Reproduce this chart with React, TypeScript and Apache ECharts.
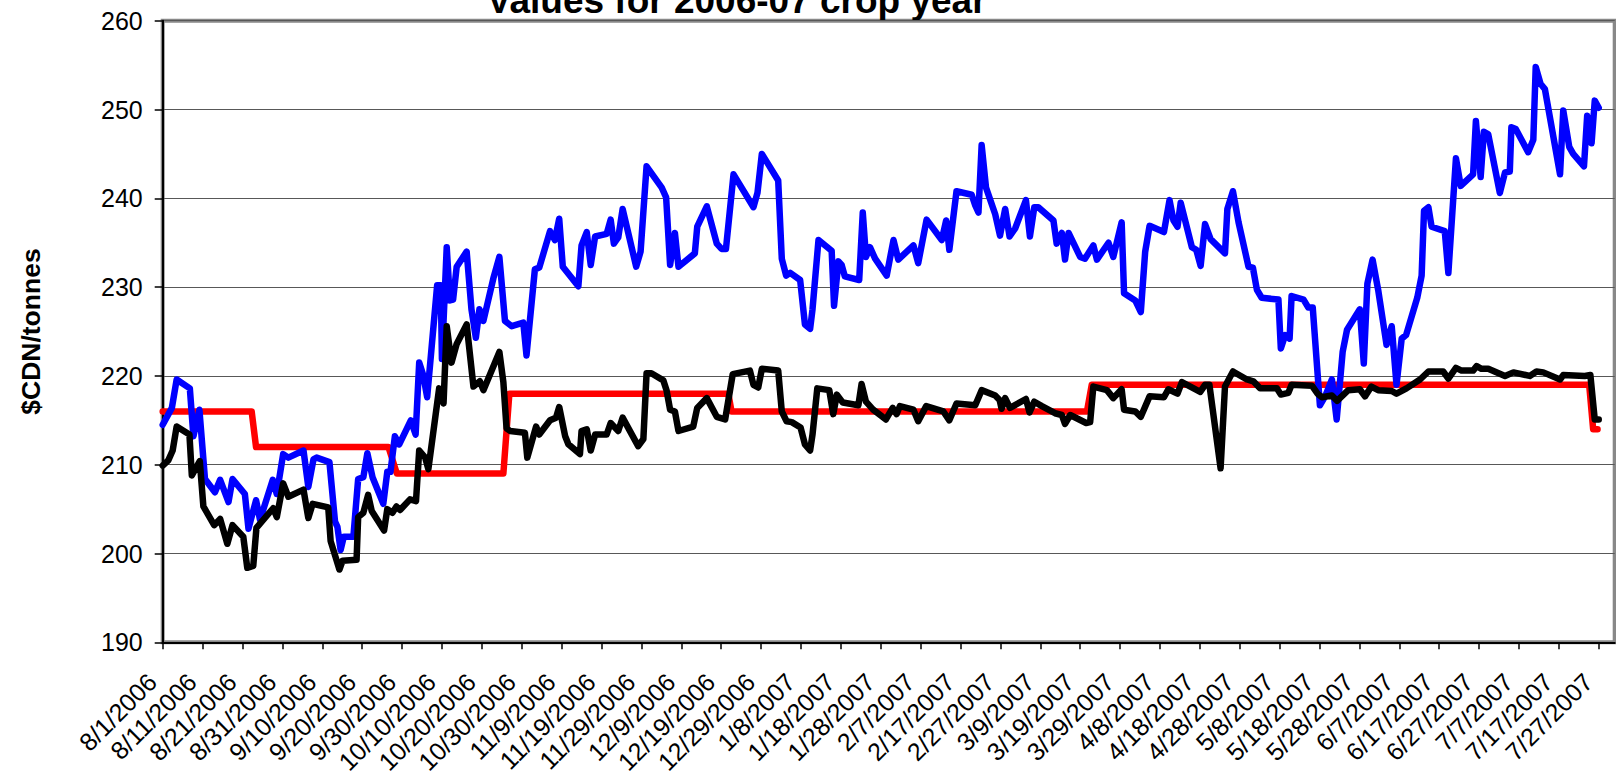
import React, { useEffect, useRef } from "react";
import * as echarts from "echarts";

const FONT = "'Liberation Sans', Arial, sans-serif";
const TITLE = "Values for 2006-07 crop year";
const Y_AXIS_NAME = "$CDN/tonnes";

// x values are days counted from 8/1/2006
const X_TICK_LABELS = [
  "8/1/2006", "8/11/2006", "8/21/2006", "8/31/2006", "9/10/2006", "9/20/2006",
  "9/30/2006", "10/10/2006", "10/20/2006", "10/30/2006", "11/9/2006", "11/19/2006",
  "11/29/2006", "12/9/2006", "12/19/2006", "12/29/2006", "1/8/2007", "1/18/2007",
  "1/28/2007", "2/7/2007", "2/17/2007", "2/27/2007", "3/9/2007", "3/19/2007",
  "3/29/2007", "4/8/2007", "4/18/2007", "4/28/2007", "5/8/2007", "5/18/2007",
  "5/28/2007", "6/7/2007", "6/17/2007", "6/27/2007", "7/7/2007", "7/17/2007",
  "7/27/2007",
];
const X_TICK_STEP_DAYS = 10;
const X_MAX_DAY = 364; // 7/31/2007
const Y_MIN = 190;
const Y_MAX = 260;
const Y_STEP = 10;

const BLUE_SERIES: [number, number][] = [
  [0, 214.5], [2.3, 216.4], [3.5, 219.6], [6.8, 218.6], [7.7, 213.2], [9.2, 216.2], [10.6, 208.4],
  [13.1, 206.9], [14.4, 208.3], [16.5, 205.8], [17.5, 208.4], [20.6, 206.7], [21.5, 202.8], [23.4, 206.0],
  [24.4, 203.8], [27.6, 208.3], [28.6, 206.7], [30.2, 211.2], [31.5, 210.8], [35.3, 211.6], [36.5, 207.5],
  [37.8, 210.6], [38.6, 210.8], [41.8, 210.3], [43.2, 203.6], [43.8, 203.0], [44.6, 200.4], [45.4, 201.9],
  [47.8, 201.9], [49.0, 208.4], [50.3, 208.6], [51.3, 211.3], [52.6, 208.6], [55.3, 205.6], [56.3, 209.2],
  [57.1, 209.2], [58.2, 213.2], [59.3, 212.3], [62.2, 215.0], [63.4, 213.4], [64.3, 221.5], [65.3, 220.1],
  [66.3, 217.6], [68.8, 230.2], [69.7, 230.2], [70.0, 221.9], [71.2, 234.5], [72.0, 228.5], [72.8, 228.6],
  [73.7, 232.3], [76.2, 234.0], [77.4, 227.5], [78.5, 224.3], [79.4, 227.5], [80.4, 226.2], [82.9, 231.0],
  [84.4, 233.4], [85.8, 226.2], [87.5, 225.6], [90.4, 226.0], [91.2, 222.3], [93.3, 232.0], [94.4, 232.2],
  [97.1, 236.3], [98.3, 235.3], [99.4, 237.7], [100.3, 232.3], [104.2, 230.1], [105.0, 234.7], [106.3, 236.2],
  [107.3, 232.5], [108.4, 235.7], [111.3, 236.0], [112.3, 237.6], [113.1, 234.9], [114.2, 235.6], [115.3, 238.8],
  [118.7, 232.3], [119.8, 234.0], [121.3, 243.6], [125.1, 241.2], [126.2, 240.1], [127.2, 232.5], [128.4, 236.1],
  [129.3, 232.3], [133.4, 233.8], [134.0, 236.8], [136.4, 239.1], [138.9, 234.9], [140.1, 234.3], [141.2, 234.3],
  [143.1, 242.7], [148.1, 239.0], [149.1, 240.6], [150.2, 245.0], [154.3, 242.0], [155.2, 233.2], [156.3, 231.3],
  [157.3, 231.6], [159.8, 230.8], [161.0, 225.8], [162.3, 225.3], [162.9, 227.5], [164.4, 235.3], [167.7, 234.1],
  [168.3, 227.9], [169.4, 232.9], [170.2, 232.5], [171.0, 231.2], [174.6, 230.8], [175.5, 238.4], [176.3, 233.4],
  [177.3, 234.5], [178.6, 233.2], [181.5, 231.3], [183.2, 235.3], [184.4, 233.1], [188.2, 234.7], [189.4, 232.7],
  [191.5, 237.6], [195.3, 235.3], [196.4, 237.5], [197.2, 234.2], [199.0, 240.8], [202.8, 240.4], [203.7, 239.2],
  [204.5, 238.4], [205.3, 246.0], [206.4, 241.2], [208.7, 238.2], [209.9, 235.8], [211.2, 238.8], [212.3, 235.7],
  [213.7, 236.6], [216.4, 239.8], [217.4, 235.7], [218.5, 239.0], [219.5, 239.0], [223.3, 237.5], [224.1, 234.9],
  [225.4, 236.1], [226.2, 233.1], [227.1, 236.1], [230.0, 233.4], [231.2, 233.2], [233.3, 234.7], [234.2, 233.1],
  [237.1, 235.0], [238.3, 233.4], [240.4, 237.3], [241.0, 229.3], [243.8, 228.5], [245.2, 227.2], [246.3, 234.0],
  [247.4, 236.9], [251.0, 236.2], [252.4, 239.8], [253.4, 237.5], [254.4, 236.8], [255.2, 239.5], [258.0, 234.5],
  [259.1, 234.2], [260.2, 232.4], [261.3, 237.1], [262.7, 235.4], [266.3, 233.8], [266.9, 238.8], [268.3, 240.8],
  [269.7, 237.3], [272.2, 232.3], [273.3, 232.2], [274.3, 229.7], [275.5, 228.8], [279.7, 228.6], [280.3, 223.1],
  [281.4, 224.6], [282.5, 224.2], [283.0, 229.0], [286.0, 228.6], [287.2, 227.7], [288.3, 227.7], [290.1, 216.7],
  [291.4, 217.7], [293.1, 219.6], [294.3, 215.1], [295.8, 222.7], [296.9, 225.2], [300.1, 227.5], [301.1, 221.4],
  [302.0, 230.4], [303.3, 233.1], [304.7, 229.7], [306.8, 223.5], [308.1, 225.6], [309.3, 219.0], [310.6, 224.2],
  [311.7, 224.6], [314.5, 228.8], [315.6, 231.3], [316.2, 238.6], [317.3, 239.0], [318.1, 236.8], [321.4, 236.3],
  [322.3, 231.6], [324.2, 244.5], [325.4, 241.4], [328.5, 242.7], [329.2, 248.7], [330.4, 242.4], [331.2, 247.5],
  [332.3, 247.2], [335.2, 240.6], [336.5, 242.9], [337.7, 243.0], [338.1, 248.0], [339.2, 247.8], [342.3, 245.2],
  [343.6, 246.6], [344.2, 254.8], [345.4, 252.9], [346.5, 252.3], [350.3, 242.7], [351.1, 249.9], [352.6, 245.8],
  [353.6, 245.0], [356.3, 243.6], [357.1, 249.3], [358.2, 246.2], [359.0, 251.0], [360.0, 250.2],
];

const BLACK_SERIES: [number, number][] = [
  [0, 209.9], [1.4, 210.5], [2.5, 211.6], [3.5, 214.3], [6.7, 213.4], [7.3, 208.8], [9.3, 210.4], [10.2, 205.3],
  [12.9, 203.2], [14.4, 203.9], [16.2, 201.1], [17.5, 203.2], [20.2, 201.9], [21.2, 198.4], [22.7, 198.6],
  [23.5, 202.9], [27.7, 205.1], [28.6, 204.1], [30.2, 207.9], [31.5, 206.4], [35.3, 207.2], [36.5, 204.0],
  [37.6, 205.6], [41.5, 205.2], [42.1, 201.4], [44.3, 198.2], [45.1, 199.2], [48.6, 199.3], [49.0, 204.1],
  [50.3, 204.6], [51.5, 206.6], [52.4, 204.8], [55.5, 202.6], [56.3, 205.0], [57.6, 204.6], [58.6, 205.3],
  [59.5, 204.9], [62.0, 206.1], [63.5, 205.9], [64.3, 211.6], [65.8, 210.8], [66.6, 209.5], [69.3, 218.6],
  [70.4, 216.9], [71.2, 225.6], [72.4, 221.5], [73.7, 223.6], [76.2, 225.8], [77.9, 218.8], [79.5, 219.4],
  [80.4, 218.4], [84.4, 222.7], [85.4, 219.3], [86.2, 214.1], [87.1, 213.8], [90.8, 213.6], [91.4, 210.8],
  [93.6, 214.3], [94.4, 213.4], [97.1, 215.0], [98.6, 215.3], [99.4, 216.5], [100.9, 213.2], [101.7, 212.3],
  [104.6, 211.2], [105.0, 213.8], [106.3, 214.0], [107.3, 211.6], [108.4, 213.4], [111.3, 213.4], [112.3, 214.7],
  [114.2, 213.8], [115.3, 215.3], [119.2, 212.1], [120.5, 212.9], [121.3, 220.3], [122.5, 220.3], [125.5, 219.5],
  [126.3, 218.4], [127.2, 216.2], [128.4, 216.0], [129.3, 213.8], [133.0, 214.3], [134.0, 216.4], [136.4, 217.5],
  [138.9, 215.4], [141.0, 215.1], [142.9, 220.2], [147.2, 220.6], [148.1, 219.0], [149.3, 218.7], [150.2, 220.8],
  [154.3, 220.6], [155.2, 216.0], [156.4, 214.9], [157.7, 214.8], [159.9, 214.2], [161.0, 212.3], [162.3, 211.6],
  [162.9, 213.4], [164.1, 218.6], [167.1, 218.4], [168.1, 215.7], [169.0, 217.9], [170.5, 217.0], [174.4, 216.7],
  [175.2, 219.1], [176.3, 217.1], [178.1, 216.2], [181.3, 215.1], [183.0, 216.4], [184.0, 215.7], [184.8, 216.6],
  [188.2, 216.2], [189.4, 214.9], [191.4, 216.6], [195.7, 216.0], [197.2, 215.0], [199.0, 216.9], [203.7, 216.7],
  [205.3, 218.4], [208.7, 217.8], [209.8, 217.3], [210.3, 216.3], [211.2, 217.5], [212.4, 216.4], [216.4, 217.4],
  [217.3, 215.9], [218.5, 217.1], [220.4, 216.6], [223.7, 215.8], [225.4, 215.6], [226.2, 214.6], [227.5, 215.6],
  [231.5, 214.7], [232.5, 214.8], [233.3, 218.8], [236.7, 218.4], [238.3, 217.5], [240.4, 218.5], [241.0, 216.2],
  [243.8, 216.0], [245.2, 215.4], [247.4, 217.7], [251.0, 217.6], [252.1, 218.5], [254.4, 218.0], [255.5, 219.3],
  [260.1, 218.2], [261.3, 219.0], [262.4, 219.0], [265.2, 209.6], [266.3, 218.8], [268.3, 220.5], [271.8, 219.6],
  [273.4, 219.4], [275.1, 218.6], [279.3, 218.6], [280.3, 217.9], [282.2, 218.1], [283.0, 219.0], [288.1, 218.9],
  [289.5, 218.0], [290.6, 217.6], [293.1, 217.8], [294.4, 217.2], [297.2, 218.4], [300.1, 218.5], [301.4, 217.7],
  [303.0, 218.8], [304.7, 218.4], [308.1, 218.3], [309.3, 218.0], [311.8, 218.6], [315.2, 219.6], [317.3, 220.5],
  [321.0, 220.5], [322.3, 219.7], [324.2, 220.9], [325.6, 220.6], [328.5, 220.6], [329.4, 221.1], [330.6, 220.8],
  [332.3, 220.8], [336.5, 220.0], [338.6, 220.4], [342.7, 220.0], [344.4, 220.5], [346.1, 220.4], [350.3, 219.6],
  [351.1, 220.1], [356.5, 220.0], [357.9, 220.1], [359.0, 215.1], [360.0, 215.1],
];

const RED_SERIES: [number, number][] = [
  [0, 216], [22.3, 216], [23.4, 212], [56.6, 212], [58.7, 209], [85.4, 209], [86.9, 218],
  [141.8, 218], [142.6, 216], [231.7, 216], [232.9, 219], [357.6, 219], [358.6, 214], [359.7, 214],
];

export default function App() {
  const ref = useRef<HTMLDivElement>(null);

  useEffect(() => {
    if (!ref.current) return;
    const chart = echarts.init(ref.current, null, { renderer: "svg" });
    const tickValues = X_TICK_LABELS.map((_, i) => i * X_TICK_STEP_DAYS);
    const lineSeries = (name: string, data: [number, number][], color: string, width: number) => ({
      name,
      type: "line",
      data,
      showSymbol: false,
      symbol: "none",
      lineStyle: { color, width, cap: "round", join: "round" },
      itemStyle: { color },
    });
    chart.setOption({
      animation: false,
      backgroundColor: "#ffffff",
      textStyle: { fontFamily: FONT },
      grid: {
        left: 162.7,
        right: 1.3,
        top: 20.7,
        bottom: 126.3,
        show: true,
        borderColor: "#888888",
        borderWidth: 4,
        containLabel: false,
      },
      xAxis: {
        type: "value",
        min: 0,
        max: X_MAX_DAY,
        axisLine: { show: true, onZero: false, lineStyle: { color: "#000", width: 2 } },
        axisTick: { show: true, customValues: tickValues, length: 7, lineStyle: { color: "#000", width: 1.5 } },
        axisLabel: {
          customValues: tickValues,
          formatter: (v: number) => X_TICK_LABELS[Math.round(v / X_TICK_STEP_DAYS)] ?? "",
          rotate: 45,
          fontSize: 25,
          fontFamily: FONT,
          color: "#000",
          margin: 24.6,
          padding: [0, 15, 0, 0],
        },
        splitLine: { show: false },
      },
      yAxis: {
        type: "value",
        min: Y_MIN,
        max: Y_MAX,
        interval: Y_STEP,
        name: Y_AXIS_NAME,
        nameLocation: "middle",
        nameGap: 118,
        nameTextStyle: { fontSize: 26.5, fontWeight: "bold", color: "#000", fontFamily: FONT },
        axisLine: { show: true, lineStyle: { color: "#000", width: 2 } },
        axisTick: { show: true, length: 8, lineStyle: { color: "#000", width: 1.5 } },
        axisLabel: { fontSize: 25, color: "#000", margin: 20, fontFamily: FONT },
        splitLine: { show: true, lineStyle: { color: "#585858", width: 1.2 } },
      },
      graphic: [
        {
          type: "text",
          x: 736.7,
          y: 0.2,
          style: {
            text: TITLE,
            fontSize: 37,
            fontWeight: "bold",
            fontFamily: FONT,
            fill: "#000",
            textAlign: "center",
            textVerticalAlign: "middle",
          },
        },
      ],
      series: [
        lineSeries("Red", RED_SERIES, "#ff0000", 6.5),
        lineSeries("Blue", BLUE_SERIES, "#0000ff", 6.5),
        lineSeries("Black", BLACK_SERIES, "#000000", 6.5),
      ],
    });
    return () => chart.dispose();
  }, []);

  return (
    <div
      ref={ref}
      style={{ position: "absolute", left: 0, top: 0, width: 1616, height: 777 }}
    />
  );
}
